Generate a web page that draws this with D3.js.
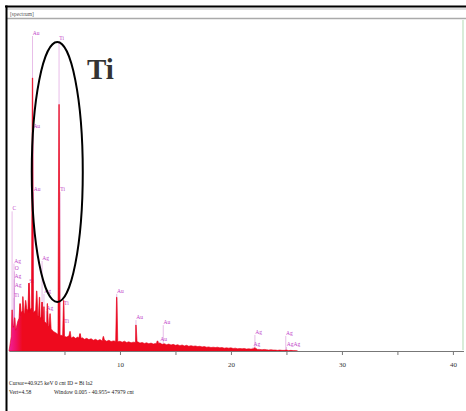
<!DOCTYPE html>
<html>
<head>
<meta charset="utf-8">
<script src="https://cdn.jsdelivr.net/npm/d3@7"></script>
<style>
  body { margin: 0; background: #fff; }
  svg { display: block; }
  text { font-family: "Liberation Serif", "DejaVu Serif", serif; }
</style>
</head>
<body>
<div id="chart"></div>
<script>
// background spectrum, counts every 0.2 keV from 0 keV
var bgStep = 0.2;
var bgCounts = [0, 45, 78, 66, 95, 112, 128, 118, 134, 122,
    136, 120, 130, 112, 108, 100, 94, 86, 78, 70,
    62, 58, 53, 50, 49, 46, 44, 48, 41, 45,
    40, 44, 38, 42, 37, 40, 36, 39, 34, 37,
    33, 36, 32, 35, 31, 34, 30, 32, 31, 29,
    31, 28, 31, 27, 29, 26, 28, 27, 29, 25,
    27, 24, 26, 23, 25, 22, 24, 23, 25, 21,
    23, 20, 22, 19, 21, 18, 20, 17, 19, 16,
    18, 15, 17, 15, 16, 14, 15, 13, 14, 12,
    13, 11, 12, 11, 12, 10, 11, 9, 10, 9,
    10, 8, 9, 7, 8, 7, 8, 6, 7, 6,
    7, 9, 5, 5, 4, 5, 4, 3, 4, 3,
    3, 2, 3, 2, 2, 3, 1, 2, 1, 1, 0];

// peaks: energy (keV), height (counts)
var peakE = [0.28, 0.52, 1.0, 1.25, 1.5, 1.8, 2.12, 2.5, 2.75, 2.98, 3.15, 3.45, 3.7,
    4.51, 4.93, 5.5, 6.4, 8.5, 9.71, 11.44, 13.38, 22.16];
var peakC = [130, 105, 150, 172, 160, 215, 864, 190, 170, 155, 140, 150, 118,
    780, 160, 62, 55, 46, 170, 82, 32, 10];

// KLM markers: label, energy, label height (counts)
var markName = ["Au", "Ti", "Au", "Au", "Ti", "Ti", "Ti", "C",
    "Ag", "O", "Ag", "Ag", "Ti", "Si", "Ag", "Ag", "Ag",
    "Au", "Au", "Au", "Au", "Ag", "Ag", "Ag", "AgAg"];
var markE = [2.12, 4.51, 2.17, 2.2, 4.6, 4.93, 4.95, 0.28,
    0.45, 0.5, 0.47, 0.49, 0.45, 1.8, 2.98, 3.15, 3.35,
    9.71, 11.44, 13.9, 13.6, 22.16, 22.0, 24.94, 25.0];
var markC = [1000, 984, 705, 506, 506, 145, 88, 445,
    280, 255, 230, 203, 171, 215, 288, 184, 130,
    184, 101, 85, 32, 54, 16, 51, 16];

var xTicks = [5, 10, 15, 20, 25, 30, 35, 40];
var infoLine1 = "Cursor=40.925 keV   0 cnt   ID = Bi la2";
var infoVert = "Vert=4.58";
var infoWindow = "Window 0.005 - 40.955=   47979 cnt";

var W = 466, H = 411;
var svg = d3.select("#chart").append("svg")
    .attr("width", W)
    .attr("height", H);

svg.append("rect").attr("width", W).attr("height", H).attr("fill", "#fff");

var x = d3.scaleLinear().domain([0, 40.955]).range([9, 463.5]);
var y = d3.scaleLinear().domain([0, 1000]).range([351, 35]);

// continuum as a piecewise linear scale
var bgE = bgCounts.map(function(d, i) { return i * bgStep; });
var bg = d3.scaleLinear().domain(bgE).range(bgCounts).clamp(true);

var pts = bgE.map(function(e, i) { return [e, bgCounts[i]]; });
var w = 0.1;
peakE.forEach(function(e, i) {
    pts.push([e - w, bg(e - w)]);
    pts.push([e - 0.02, peakC[i]]);
    pts.push([e + 0.02, peakC[i]]);
    pts.push([e + w, bg(e + w)]);
});
pts.sort(function(a, b) { return a[0] - b[0]; });

// window frame
svg.append("line").attr("x1", 5).attr("x2", W).attr("y1", 6.5).attr("y2", 6.5)
    .attr("stroke", "#000").attr("stroke-width", 2);
svg.append("line").attr("x1", 7).attr("x2", W).attr("y1", 9).attr("y2", 9)
    .attr("stroke", "#bbb").attr("stroke-width", 1);
svg.append("line").attr("x1", 7).attr("x2", W).attr("y1", 18.5).attr("y2", 18.5)
    .attr("stroke", "#aaa").attr("stroke-width", 1.5);
svg.append("line").attr("x1", 6.5).attr("x2", 6.5).attr("y1", 5.5).attr("y2", H)
    .attr("stroke", "#000").attr("stroke-width", 2);
svg.append("text").attr("x", 10).attr("y", 16)
    .attr("font-size", 5.5).attr("fill", "#555").text("[spectrum]");

// right edge of plot
svg.append("line").attr("x1", 463).attr("x2", 463).attr("y1", 20).attr("y2", 350)
    .attr("stroke", "#bfe0bf").attr("stroke-width", 1.2);

// spectrum fill
var grad = svg.append("defs").append("linearGradient")
    .attr("id", "spec").attr("gradientUnits", "userSpaceOnUse")
    .attr("x1", x(0)).attr("x2", x(1.2)).attr("y1", 0).attr("y2", 0);
grad.append("stop").attr("offset", 0).attr("stop-color", "#f0209a");
grad.append("stop").attr("offset", 0.55).attr("stop-color", "#f01060");
grad.append("stop").attr("offset", 1).attr("stop-color", "#ee0a1e");

var area = d3.area()
    .x(function(d) { return x(d[0]); })
    .y0(y(0))
    .y1(function(d) { return y(d[1]); });

// marker lines and labels
var marks = svg.append("g").selectAll("g")
    .data(markName.map(function(n, i) { return {name: n, e: markE[i], c: markC[i]}; }))
    .enter().append("g");
marks.append("line")
    .attr("x1", function(d) { return x(d.e); })
    .attr("x2", function(d) { return x(d.e); })
    .attr("y1", function(d) { return y(d.c) + 1; })
    .attr("y2", y(0))
    .attr("stroke", "#d890d8")
    .attr("stroke-opacity", 0.75)
    .attr("stroke-width", 0.8);

svg.append("path").datum(pts)
    .attr("d", area)
    .attr("fill", "url(#spec)")
    .attr("stroke", "#e8001a")
    .attr("stroke-width", 0.6);

marks.append("text")
    .attr("x", function(d) { return x(d.e) + 0.3; })
    .attr("y", function(d) { return y(d.c); })
    .attr("font-size", 5.5)
    .attr("fill", "#c040c8")
    .text(function(d) { return d.name; });

// x axis
var axis = d3.axisBottom(x)
    .tickValues(xTicks)
    .tickSize(4)
    .tickSizeOuter(0)
    .tickFormat(function(d) { return d % 10 === 0 ? d : ""; });
var ax = svg.append("g").attr("transform", "translate(0," + y(0) + ")").call(axis);
ax.select(".domain").attr("stroke", "#777").attr("stroke-width", 1.2);
ax.selectAll(".tick line").attr("stroke", "#777");
ax.selectAll(".tick text")
    .attr("y", 11)
    .attr("font-size", 7)
    .attr("font-family", "Liberation Serif")
    .attr("fill", "#333");

// cursor / window info
svg.append("text").attr("x", 9).attr("y", 385)
    .attr("font-size", 5.6).attr("fill", "#222").text(infoLine1);
svg.append("text").attr("x", 9).attr("y", 394)
    .attr("font-size", 5.6).attr("fill", "#222").text(infoVert);
svg.append("text").attr("x", 54).attr("y", 394)
    .attr("font-size", 5.6).attr("fill", "#222").text(infoWindow);

// Ti annotation
svg.append("ellipse")
    .attr("cx", x(4.35)).attr("cy", 172)
    .attr("rx", 25.5).attr("ry", 130)
    .attr("fill", "none")
    .attr("stroke", "#000")
    .attr("stroke-width", 2);
svg.append("text").attr("x", 87).attr("y", 79)
    .attr("font-size", 29)
    .attr("font-weight", "bold")
    .attr("fill", "#333")
    .text("Ti");
</script>
</body>
</html>
